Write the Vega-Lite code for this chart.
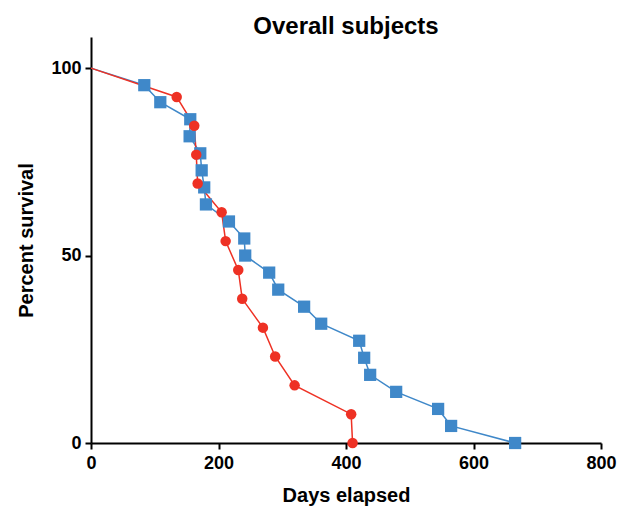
{
  "$schema": "https://vega.github.io/schema/vega-lite/v6.json",
  "autosize": "none",
  "width": 510,
  "height": 406,
  "padding": {"left": 91, "top": 37, "right": 18, "bottom": 63},
  "background": "white",
  "config": {
    "view": {"stroke": null},
    "font": "Liberation Sans"
  },
  "title": {
    "text": "Overall subjects",
    "fontSize": 24,
    "fontWeight": "bold",
    "font": "Liberation Sans",
    "color": "black",
    "anchor": "middle",
    "baseline": "alphabetic",
    "offset": 6,
    "dy": 27
  },
  "data": {
    "values": [
      {"group": "B", "day": 0, "survival": 100, "marker": false},
      {"group": "B", "day": 83.6, "survival": 95.45, "marker": true},
      {"group": "B", "day": 108.7, "survival": 90.91, "marker": true},
      {"group": "B", "day": 155.7, "survival": 86.36, "marker": true},
      {"group": "B", "day": 154.7, "survival": 81.82, "marker": true},
      {"group": "B", "day": 171.4, "survival": 77.27, "marker": true},
      {"group": "B", "day": 173.6, "survival": 72.73, "marker": true},
      {"group": "B", "day": 177.6, "survival": 68.18, "marker": true},
      {"group": "B", "day": 180.3, "survival": 63.64, "marker": true},
      {"group": "B", "day": 216.4, "survival": 59.09, "marker": true},
      {"group": "B", "day": 240.4, "survival": 54.55, "marker": true},
      {"group": "B", "day": 241.9, "survival": 50.0, "marker": true},
      {"group": "B", "day": 279.5, "survival": 45.45, "marker": true},
      {"group": "B", "day": 293.7, "survival": 40.91, "marker": true},
      {"group": "B", "day": 334.3, "survival": 36.36, "marker": true},
      {"group": "B", "day": 361.1, "survival": 31.82, "marker": true},
      {"group": "B", "day": 420.7, "survival": 27.27, "marker": true},
      {"group": "B", "day": 428.5, "survival": 22.73, "marker": true},
      {"group": "B", "day": 437.9, "survival": 18.18, "marker": true},
      {"group": "B", "day": 478.7, "survival": 13.64, "marker": true},
      {"group": "B", "day": 544.5, "survival": 9.09, "marker": true},
      {"group": "B", "day": 564.9, "survival": 4.55, "marker": true},
      {"group": "B", "day": 665.3, "survival": 0, "marker": true},
      {"group": "R", "day": 0, "survival": 100, "marker": false},
      {"group": "R", "day": 134.4, "survival": 92.31, "marker": true},
      {"group": "R", "day": 162.0, "survival": 84.62, "marker": true},
      {"group": "R", "day": 165.1, "survival": 76.92, "marker": true},
      {"group": "R", "day": 167.3, "survival": 69.23, "marker": true},
      {"group": "R", "day": 204.9, "survival": 61.54, "marker": true},
      {"group": "R", "day": 211.2, "survival": 53.85, "marker": true},
      {"group": "R", "day": 231.0, "survival": 46.15, "marker": true},
      {"group": "R", "day": 237.2, "survival": 38.46, "marker": true},
      {"group": "R", "day": 269.7, "survival": 30.77, "marker": true},
      {"group": "R", "day": 288.9, "survival": 23.08, "marker": true},
      {"group": "R", "day": 319.4, "survival": 15.38, "marker": true},
      {"group": "R", "day": 408.1, "survival": 7.69, "marker": true},
      {"group": "R", "day": 410.3, "survival": 0, "marker": true}
    ]
  },
  "encoding": {
    "x": {
      "field": "day",
      "type": "quantitative",
      "scale": {"domain": [0, 800], "nice": false, "zero": true},
      "axis": {
        "values": [0, 200, 400, 600, 800],
        "title": "Days elapsed",
        "grid": false,
        "domainColor": "black",
        "domainWidth": 2,
        "tickColor": "black",
        "tickWidth": 2,
        "tickSize": 6,
        "labelFontSize": 18,
        "labelFontWeight": "bold",
        "labelColor": "black",
        "labelPadding": 5,
        "labelFlush": false,
        "titleFontSize": 20,
        "titleFontWeight": "bold",
        "titleColor": "black",
        "titlePadding": 13
      }
    },
    "y": {
      "field": "survival",
      "type": "quantitative",
      "scale": {"domain": [0, 108.3], "nice": false},
      "axis": {
        "values": [0, 50, 100],
        "title": "Percent survival",
        "grid": false,
        "domainColor": "black",
        "domainWidth": 2,
        "tickColor": "black",
        "tickWidth": 2,
        "tickSize": 6,
        "labelFontSize": 18,
        "labelFontWeight": "bold",
        "labelColor": "black",
        "labelPadding": 4,
        "titleFontSize": 20,
        "titleFontWeight": "bold",
        "titleColor": "black",
        "titlePadding": 14
      }
    },
    "color": {
      "field": "group",
      "type": "nominal",
      "scale": {"domain": ["B", "R"], "range": ["#3F88C9", "#EE3124"]},
      "legend": null
    }
  },
  "layer": [
    {
      "mark": {"type": "line", "strokeWidth": 1.5},
      "encoding": {"order": {"field": "survival", "sort": "descending"}}
    },
    {
      "transform": [{"filter": "datum.marker"}],
      "mark": {"type": "point", "filled": true, "opacity": 1},
      "encoding": {
        "shape": {
          "field": "group",
          "type": "nominal",
          "scale": {"domain": ["B", "R"], "range": ["square", "circle"]},
          "legend": null
        },
        "size": {
          "field": "group",
          "type": "nominal",
          "scale": {"domain": ["B", "R"], "range": [150, 110]},
          "legend": null
        }
      }
    }
  ]
}
